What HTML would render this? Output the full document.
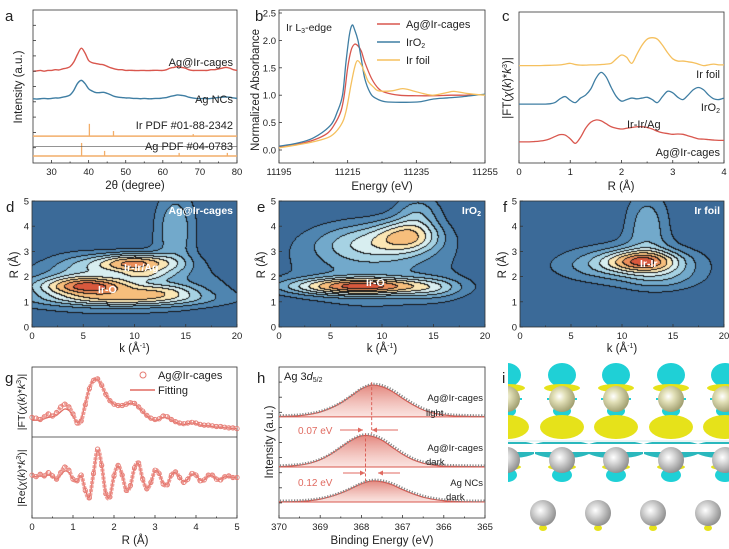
<!DOCTYPE html>
<html><head><meta charset="utf-8">
<style>
html,body{margin:0;padding:0;background:#fff;}
#wrap{position:relative;width:729px;height:549px;overflow:hidden;font-family:"Liberation Sans",sans-serif;}
canvas{position:absolute;}
svg{position:absolute;left:0;top:0;}
text{font-family:"Liberation Sans",sans-serif;}
</style></head>
<body>
<div id="wrap">
<canvas id="cd" width="205" height="126" style="left:32px;top:201px"></canvas>
<canvas id="ce" width="206" height="126" style="left:279px;top:201px"></canvas>
<canvas id="cf" width="204" height="126" style="left:520px;top:201px"></canvas>
<svg id="fig" width="729" height="549" viewBox="0 0 729 549"></svg>
</div>
<script>
// ---------- DATA ----------
const aTheta=[25,26,27,28,29,30,31,32,33,34,35,36,37,38,39,40,41,42,43,44,45,46,47,48,49,50,51,52,53,54,55,56,57,58,59,60,61,62,63,64,65,66,67,68,69,70,71,72,73,74,75,76,77,78,79,80];
const aAgIr=[6.0,6.02,6.05,6.0,6.05,6.05,6.1,6.08,6.15,6.2,6.3,6.6,7.1,7.5,7.2,6.7,6.55,6.5,6.45,6.42,6.32,6.22,6.15,6.1,6.1,6.05,6.06,6.05,6.04,6.05,6.05,6.04,6.05,6.06,6.05,6.05,6.1,6.2,6.25,6.3,6.25,6.2,6.1,6.05,6.05,6.05,6.05,6.05,6.1,6.1,6.15,6.2,6.25,6.2,6.1,6.05];
const aAgNC=[4.2,4.18,4.2,4.22,4.2,4.22,4.25,4.25,4.3,4.35,4.45,4.75,5.2,5.4,5.2,4.85,4.7,4.6,4.6,4.62,4.55,4.45,4.35,4.3,4.28,4.25,4.25,4.22,4.22,4.2,4.22,4.2,4.2,4.22,4.22,4.25,4.28,4.35,4.4,4.45,4.42,4.38,4.3,4.25,4.22,4.2,4.22,4.2,4.22,4.25,4.28,4.3,4.32,4.3,4.25,4.22];
const irPdfPos=[40.2,46.7,68.2];
const irPdfH=[0.8,0.33,0.13];
const agPdfPos=[38.1,44.3,64.4,77.4];
const agPdfH=[0.85,0.33,0.2,0.2];
const irPdfBase=1.76, agPdfBase=0.46;

const bE_AgIr=[11195,11200,11205,11209,11211,11213,11214,11215,11216,11217,11218,11219,11220,11222,11224,11226,11230,11235,11240,11245,11250,11255];
const bV_AgIr=[0.05,0.1,0.18,0.3,0.45,0.7,1.0,1.5,1.82,1.93,1.9,1.8,1.6,1.3,1.12,1.05,1.0,0.99,0.99,1.0,1.0,1.01];
const bE_IrO2=[11195,11200,11205,11210,11212,11213.5,11214.5,11215.5,11216.3,11217,11218,11219,11220,11221.5,11223,11226,11232,11236,11240,11244,11248,11255];
const bV_IrO2=[0.07,0.12,0.22,0.45,0.7,1.0,1.6,2.1,2.28,2.2,2.0,1.65,1.3,1.05,0.95,0.88,0.87,0.88,0.93,0.95,0.97,1.02];
const bE_Ir=[11195,11200,11205,11210,11213,11214.5,11216,11217,11217.8,11219,11220,11221,11222.5,11224,11228,11231,11234,11237,11240,11244,11246,11250,11255];
const bV_Ir=[0.04,0.09,0.15,0.25,0.45,0.7,1.2,1.5,1.63,1.55,1.4,1.25,1.15,1.08,1.08,1.12,1.08,1.03,1.0,1.05,1.07,1.03,1.0];

const cR=[0,0.1,0.2,0.3,0.4,0.5,0.6,0.7,0.8,0.9,1.0,1.1,1.2,1.3,1.4,1.5,1.6,1.7,1.8,1.9,2.0,2.1,2.2,2.3,2.4,2.5,2.6,2.7,2.8,2.9,3.0,3.1,3.2,3.3,3.4,3.5,3.6,3.7,3.8,3.9,4.0];
const cIr=[6.45,6.45,6.45,6.45,6.45,6.46,6.47,6.48,6.5,6.55,6.6,6.52,6.48,6.48,6.5,6.5,6.52,6.55,6.6,6.9,7.15,7.0,6.6,7.2,7.8,8.2,8.3,8.2,7.8,7.3,6.9,6.75,6.75,6.7,6.65,6.55,6.45,6.5,6.55,6.5,6.5];
const cIrO2=[3.9,3.9,3.9,3.9,3.9,3.9,3.92,4.0,4.25,4.4,4.15,4.0,4.3,4.5,4.9,5.6,6.0,5.7,5.0,4.4,4.1,4.2,4.3,4.25,4.3,4.35,4.2,4.0,4.4,4.75,4.65,4.35,4.2,4.5,4.85,5.0,4.85,4.5,4.25,4.2,4.3];
const cAgIr=[1.4,1.4,1.4,1.42,1.45,1.5,1.6,1.75,1.88,1.85,1.6,1.3,1.7,2.3,2.7,2.85,2.8,2.6,2.4,2.3,2.25,2.3,2.35,2.4,2.4,2.35,2.25,2.1,2.0,1.95,1.9,1.92,1.9,1.8,1.7,1.6,1.58,1.55,1.52,1.5,1.5];

const dK=[5.5,10,9,12.5,14,11,8,4.5];
const dR=[1.6,2.5,1.1,1.4,3.9,2.05,1.6,2.3];
const dA=[1.0,0.95,0.55,0.4,0.32,0.3,0.25,0.18];
const dSK=[3.0,2.6,5.0,2.5,1.4,1.5,8,2];
const dSR=[0.25,0.25,0.2,0.2,1.1,0.15,0.8,0.4];
const eK=[8,12.5,9,9,13.5,15];
const eR=[1.6,3.6,3.3,2.3,4.5,1.5];
const eA=[1.0,0.55,0.35,0.2,0.25,0.2];
const eSK=[4.2,2,3.5,6,1.5,2];
const eSR=[0.22,0.4,0.5,1.2,0.5,0.3];
const fK=[12,11,12.5,14,8];
const fR=[2.6,2.5,4.0,2.0,2.4];
const fA=[1.0,0.3,0.35,0.25,0.15];
const fSK=[2.3,5,1.5,2.5,3];
const fSR=[0.28,0.6,1.0,0.4,0.35];
const levels=[0.08,0.17,0.27,0.38,0.5,0.63,0.77,0.9];
const levelColors=['#3b6a98','#4f85b0','#72a9cb','#a6d2e3','#d8eef0','#fbe6b4','#f6be7c','#ec8e5a','#d9583d'];

const gR=[0,0.1,0.2,0.3,0.4,0.5,0.6,0.7,0.8,0.9,1.0,1.1,1.2,1.3,1.4,1.5,1.6,1.7,1.8,1.9,2.0,2.1,2.2,2.3,2.4,2.5,2.6,2.7,2.8,2.9,3.0,3.1,3.2,3.3,3.4,3.5,3.6,3.7,3.8,3.9,4.0,4.1,4.2,4.3,4.4,4.5,4.6,4.7,4.8,4.9,5.0];
const gFTdata=[2.8,2.7,2.5,2.9,3.3,3.0,3.5,4.3,4.7,4.3,3.3,2.0,2.3,4.6,6.9,8.1,8.3,7.4,6.1,5.2,4.7,4.5,4.5,4.7,4.9,4.8,4.3,3.7,3.1,2.7,2.5,2.6,3.0,2.9,2.5,2.2,2.0,1.9,2.0,2.1,2.0,1.8,1.7,1.7,1.6,1.5,1.5,1.4,1.3,1.3,1.2];
const gFTfit=[2.4,2.4,2.4,2.6,2.8,2.9,3.1,3.6,4.0,3.8,3.0,2.1,2.6,4.8,7.0,8.1,8.2,7.3,6.1,5.2,4.7,4.5,4.5,4.7,4.8,4.7,4.2,3.6,3.0,2.6,2.4,2.5,2.8,2.7,2.4,2.1,1.9,1.8,1.9,2.0,1.9,1.7,1.6,1.6,1.5,1.4,1.4,1.3,1.3,1.2,1.2];
const gReData=[0.3,0.1,0.4,0.2,0.6,0.2,-0.2,0.6,1.3,0.9,-0.2,-0.4,0.3,-1.6,-2.5,0.5,3.5,1.5,-2.0,-2.4,0.2,1.5,0.3,-1.6,-1.0,1.2,1.8,-0.2,-1.4,-0.6,0.9,0.5,-0.8,-0.9,0.3,0.7,0.0,-0.6,-0.2,0.5,0.3,-0.4,-0.3,0.3,0.3,-0.2,-0.3,0.1,0.2,0.0,0.0];
const gReFit=[0.1,0.1,0.2,0.1,0.3,0.1,-0.2,0.3,0.8,0.6,-0.2,-0.5,0.2,-1.5,-2.4,0.5,3.3,1.5,-1.9,-2.3,0.2,1.4,0.3,-1.5,-1.0,1.1,1.7,-0.2,-1.3,-0.6,0.8,0.5,-0.7,-0.8,0.3,0.6,0.0,-0.5,-0.2,0.4,0.3,-0.3,-0.3,0.2,0.2,-0.2,-0.2,0.1,0.1,0.0,0.0];

const hBE=[370,369.75,369.5,369.25,369,368.75,368.5,368.25,368,367.75,367.5,367.25,367,366.75,366.5,366.25,366,365.75,365.5,365.25,365];
const hLight=[6.72,6.74,6.78,6.87,7.02,7.27,7.62,8.08,8.55,8.8,8.7,8.38,7.92,7.5,7.16,6.95,6.83,6.76,6.74,6.72,6.72];
const hDark=[3.4,3.44,3.5,3.63,3.86,4.22,4.68,5.14,5.44,5.42,5.15,4.68,4.22,3.86,3.63,3.5,3.44,3.42,3.41,3.4,3.4];
const hNC=[1.07,1.08,1.1,1.15,1.25,1.42,1.65,1.95,2.27,2.45,2.4,2.2,1.88,1.6,1.38,1.24,1.15,1.1,1.08,1.07,1.07];
const hBase=[6.7,3.38,1.06];
const hPeakPos=[367.75,367.9];

// ---------- HELPERS ----------
const NS='http://www.w3.org/2000/svg';
const svg=document.getElementById('fig');
function el(tag,attrs,parent){const e=document.createElementNS(NS,tag);for(const k in attrs)e.setAttribute(k,attrs[k]);(parent||svg).appendChild(e);return e;}
function lin(d0,d1,r0,r1){return v=>r0+(v-d0)/(d1-d0)*(r1-r0);}
function smoothPath(pts){
  let d='M'+pts[0][0].toFixed(2)+','+pts[0][1].toFixed(2);
  for(let i=0;i<pts.length-1;i++){
    const p0=pts[i-1]||pts[i],p1=pts[i],p2=pts[i+1],p3=pts[i+2]||p2;
    const c1=[p1[0]+(p2[0]-p0[0])/6,p1[1]+(p2[1]-p0[1])/6];
    const c2=[p2[0]-(p3[0]-p1[0])/6,p2[1]-(p3[1]-p1[1])/6];
    d+='C'+c1.map(v=>v.toFixed(2))+' '+c2.map(v=>v.toFixed(2))+' '+p2[0].toFixed(2)+','+p2[1].toFixed(2);
  }
  return d;
}
function txt(x,y,s,opt){opt=opt||{};const t=el('text',{x:x,y:y,'font-size':opt.size||10,fill:opt.fill||'#222','text-anchor':opt.anchor||'start','font-weight':opt.weight||'normal'});
  if(opt.rot){t.setAttribute('transform','rotate(-90 '+x+' '+y+')');}
  t.innerHTML=s;return t;}
function frame(L,T,R,B,name){const r=el('rect',{x:L,y:T,width:R-L,height:B-T,fill:'none',stroke:'#333','stroke-width':0.8});return r;}
function xTicks(xs,vals,labels,B,T,ly,minor){
  vals.forEach((v,i)=>{const x=xs(v);el('line',{x1:x,x2:x,y1:B,y2:B-3,stroke:'#333','stroke-width':0.8});
    const t=txt(x,ly,labels[i],{anchor:'middle',size:9.5});});
  (minor||[]).forEach(v=>{const x=xs(v);el('line',{x1:x,x2:x,y1:B,y2:B-1.5,stroke:'#333','stroke-width':0.8});});
}
function yTicks(ys,vals,labels,L,lx){
  vals.forEach((v,i)=>{const y=ys(v);el('line',{x1:L,x2:L+3,y1:y,y2:y,stroke:'#333','stroke-width':0.8});
    if(labels){const t=txt(lx,y+3.5,labels[i],{anchor:'end',size:9.5});}});
}
function letter(x,y,s){const t=txt(x,y,s,{size:15});}

// ---------- PANEL a ----------
(function(){
  const L=33,R=237,T=10,B=163;
  const xs=lin(25,80,L,R), ys=lin(0,10,B,T);
  letter(5,21,'a');
  frame(L,T,R,B,'panel-a-frame');
  const p1=el('path',{d:smoothPath(aTheta.map((t,i)=>[xs(t),ys(aAgIr[i])])),fill:'none',stroke:'#d9574e','stroke-width':1.4});
  
  const p2=el('path',{d:smoothPath(aTheta.map((t,i)=>[xs(t),ys(aAgNC[i])])),fill:'none',stroke:'#3f7ea3','stroke-width':1.4});
  
  const b1=el('line',{x1:L,x2:R,y1:ys(irPdfBase),y2:ys(irPdfBase),stroke:'#f2ae6a','stroke-width':1.5});
  
  irPdfPos.forEach((p,i)=>{const l=el('line',{x1:xs(p),x2:xs(p),y1:ys(irPdfBase),y2:ys(irPdfBase+irPdfH[i]),stroke:'#f2ae6a','stroke-width':1.3});
    });
  const b2=el('line',{x1:L,x2:R,y1:ys(agPdfBase),y2:ys(agPdfBase),stroke:'#f2ae6a','stroke-width':1.5});
  
  agPdfPos.forEach((p,i)=>{const l=el('line',{x1:xs(p),x2:xs(p),y1:ys(agPdfBase),y2:ys(agPdfBase+agPdfH[i]),stroke:'#f2ae6a','stroke-width':1.3});
    });
  el('line',{x1:L,x2:R,y1:ys(1.08),y2:ys(1.08),stroke:'#555','stroke-width':0.6});
  xTicks(xs,[30,40,50,60,70,80],['30','40','50','60','70','80'],B,T,175,[35,45,55,65,75]);
  yTicks(ys,[1,2,3,4,5,6,7,8,9],null,L);
  txt(233,66,'Ag@Ir-cages',{anchor:'end',size:11});
  txt(233,103,'Ag NCs',{anchor:'end',size:11});
  txt(233,129,'Ir PDF #01-88-2342',{anchor:'end',size:11});
  txt(233,150,'Ag PDF #04-0783',{anchor:'end',size:11});
  txt(135,189,'2θ (degree)',{anchor:'middle',size:11.5});
  txt(22,87,'Intensity (a.u.)',{anchor:'middle',size:11.5,rot:true});
})();

// ---------- PANEL b ----------
(function(){
  const L=279,R=485,T=10,B=163;
  const xs=lin(11195,11255,L,R), ys=lin(0,2.5,150,13);
  letter(255,21,'b');
  frame(L,T,R,B,'panel-b-frame');
  [[bE_AgIr,bV_AgIr,'#d9574e','xanes-ag-ir-cages'],[bE_IrO2,bV_IrO2,'#3f7ea3','xanes-iro2'],[bE_Ir,bV_Ir,'#f5c05e','xanes-ir-foil']].forEach(s=>{
    const p=el('path',{d:smoothPath(s[0].map((e,i)=>[xs(e),ys(s[1][i])])),fill:'none',stroke:s[2],'stroke-width':1.3});
    });
  xTicks(xs,[11195,11215,11235,11255],['11195','11215','11235','11255'],B,T,175,[11205,11225,11245]);
  yTicks(ys,[0,0.5,1,1.5,2,2.5],['0.0','0.5','1.0','1.5','2.0','2.5'],L,276);
  txt(286,31,'Ir L<tspan font-size="7" dy="2">3</tspan><tspan dy="-2">-edge</tspan>',{size:10.5});
  [['Ag@Ir-cages','#d9574e',24],['IrO<tspan font-size="7" dy="2">2</tspan>','#3f7ea3',42],['Ir foil','#f5c05e',60]].forEach(r=>{
    const l=el('line',{x1:377,x2:400,y1:r[2],y2:r[2],stroke:r[1],'stroke-width':1.5});
    txt(406,r[2]+4,r[0],{size:11});});
  txt(382,190,'Energy (eV)',{anchor:'middle',size:11.5});
  txt(259,90,'Normalized Absorbance',{anchor:'middle',size:11.5,rot:true});
})();

// ---------- PANEL c ----------
(function(){
  const L=519,R=724,T=12,B=163;
  const xs=lin(0,4,L,R), ys=lin(0,10,B,T);
  letter(502,21,'c');
  frame(L,T,R,B,'panel-c-frame');
  [[cIr,'#f5c05e','ft-ir-foil'],[cIrO2,'#3f7ea3','ft-iro2'],[cAgIr,'#d9574e','ft-ag-ir-cages']].forEach(s=>{
    const p=el('path',{d:smoothPath(cR.map((r,i)=>[xs(r),ys(s[0][i])])),fill:'none',stroke:s[1],'stroke-width':1.3});
    });
  xTicks(xs,[0,1,2,3,4],['0','1','2','3','4'],B,T,175,[0.5,1.5,2.5,3.5]);
  txt(720,78,'Ir foil',{anchor:'end',size:11});
  txt(720,111,'IrO<tspan font-size="7" dy="2">2</tspan>',{anchor:'end',size:11});
  txt(627,128,'Ir-Ir/Ag',{size:11});
  txt(720,156,'Ag@Ir-cages',{anchor:'end',size:11});
  txt(621,190,'R (Å)',{anchor:'middle',size:11.5});
  txt(511,88,'|FT(<tspan font-style="italic">χ</tspan>(<tspan font-style="italic">k</tspan>)*<tspan font-style="italic">k</tspan><tspan font-size="7" dy="-4">3</tspan><tspan dy="4">)|</tspan>',{anchor:'middle',size:11.5,rot:true});
})();

// ---------- CONTOURS d/e/f ----------
function drawContour(id,K,Rc,A,SK,SR){
  const cv=document.getElementById(id),ctx=cv.getContext('2d');
  const W=cv.width,H=cv.height;
  const field=new Array(W*H);let mx=0;
  for(let py=0;py<H;py++)for(let px=0;px<W;px++){
    const k=(px+0.5)/W*20,r=5-(py+0.5)/H*5;let f=0;
    for(let i=0;i<K.length;i++){const dk=(k-K[i])/SK[i],dr=(r-Rc[i])/SR[i];f+=A[i]*Math.exp(-0.5*(dk*dk+dr*dr));}
    field[py*W+px]=f;if(f>mx)mx=f;}
  const lev=field.map(f=>{f/=mx;let l=0;while(l<levels.length&&f>levels[l])l++;return l;});
  const img=ctx.createImageData(W,H);
  const rgb=levelColors.map(c=>[parseInt(c.substr(1,2),16),parseInt(c.substr(3,2),16),parseInt(c.substr(5,2),16)]);
  for(let py=0;py<H;py++)for(let px=0;px<W;px++){
    const i=py*W+px,l=lev[i];let c=rgb[l];
    const rN=px<W-1?lev[i+1]:l,dN=py<H-1?lev[i+W]:l;
    if(rN!==l||dN!==l)c=[20,20,20];
    img.data[i*4]=c[0];img.data[i*4+1]=c[1];img.data[i*4+2]=c[2];img.data[i*4+3]=255;}
  ctx.putImageData(img,0,0);
}
drawContour('cd',dK,dR,dA,dSK,dSR);
drawContour('ce',eK,eR,eA,eSK,eSR);
drawContour('cf',fK,fR,fA,fSK,fSR);
[[32,237,'d','Ag@Ir-cages',6],[279,485,'e','IrO<tspan font-size="7" dy="2">2</tspan>',257],[520,724,'f','Ir foil',503]].forEach(p=>{
  const L=p[0],R=p[1],T=201,B=327;
  const xs=lin(0,20,L,R),ys=lin(0,5,B,T);
  letter(p[4],212,p[2]);
  frame(L,T,R,B,'panel-'+p[2]+'-frame');
  xTicks(xs,[0,5,10,15,20],['0','5','10','15','20'],B,T,339,[2.5,7.5,12.5,17.5]);
  yTicks(ys,[0,1,2,3,4,5],['0','1','2','3','4','5'],L,L-3);
  txt(R-4,214,p[3],{anchor:'end',size:10.5,fill:'#fff',weight:'bold'});
  txt((L+R)/2,352,'k (Å<tspan font-size="7" dy="-4">-1</tspan><tspan dy="4">)</tspan>',{anchor:'middle',size:11.5});
  txt(L-14,265,'R (Å)',{anchor:'middle',size:11.5,rot:true});
});
txt(124,271,'Ir-Ir/Ag',{size:10.5,fill:'#fff',weight:'bold'});
txt(98,293,'Ir-O',{size:10.5,fill:'#fff',weight:'bold'});
txt(366,286,'Ir-O',{size:10.5,fill:'#fff',weight:'bold'});
txt(640,267,'Ir-Ir',{size:10.5,fill:'#fff',weight:'bold'});

// ---------- PANEL g ----------
(function(){
  const L=32,R=237,T=367,M=437,B=518;
  const xs=lin(0,5,L,R), yt=lin(0,10,M,T), yb=lin(-5,5,B,M);
  letter(5,383,'g');
  frame(L,T,R,B,'panel-g-frame');
  el('line',{x1:L,x2:R,y1:M,y2:M,stroke:'#333','stroke-width':0.8});
  const c1=el('path',{d:smoothPath(gR.map((r,i)=>[xs(r),yt(gFTfit[i])])),fill:'none',stroke:'#e06a60','stroke-width':1.3});
  
  const c2=el('path',{d:smoothPath(gR.map((r,i)=>[xs(r),yb(gReFit[i])])),fill:'none',stroke:'#e06a60','stroke-width':1.3});
  
  const d1=el('path',{d:smoothPath(gR.map((r,i)=>[xs(r),yt(gFTdata[i])])),fill:'none',stroke:'#eb8a82','stroke-width':4,'stroke-dasharray':'3 1','opacity':0.8});
  
  const d2=el('path',{d:smoothPath(gR.map((r,i)=>[xs(r),yb(gReData[i])])),fill:'none',stroke:'#eb8a82','stroke-width':4,'stroke-dasharray':'3 1','opacity':0.8});
  
  gR.forEach((r,i)=>{
    const a=el('circle',{cx:xs(r),cy:yt(gFTdata[i]),r:2.2,fill:'none',stroke:'#e57a72','stroke-width':0.8});
    const b=el('circle',{cx:xs(r),cy:yb(gReData[i]),r:2.2,fill:'none',stroke:'#e57a72','stroke-width':0.8});});
  xTicks(xs,[0,1,2,3,4,5],['0','1','2','3','4','5'],B,M,530,[0.5,1.5,2.5,3.5,4.5]);
  const lc=el('circle',{cx:143,cy:375,r:3,fill:'none',stroke:'#e57a72','stroke-width':1});
  txt(158,379,'Ag@Ir-cages',{size:11});
  const ll=el('line',{x1:130,x2:155,y1:390,y2:390,stroke:'#e06a60','stroke-width':1.5});
  txt(158,394,'Fitting',{size:11});
  txt(135,544,'R  (Å)',{anchor:'middle',size:11.5});
  txt(25,402,'|FT(<tspan font-style="italic">χ</tspan>(<tspan font-style="italic">k</tspan>)*<tspan font-style="italic">k</tspan><tspan font-size="7" dy="-4">3</tspan><tspan dy="4">)|</tspan>',{anchor:'middle',size:10.5,rot:true});
  txt(25,478,'|Re(<tspan font-style="italic">χ</tspan>(<tspan font-style="italic">k</tspan>)*<tspan font-style="italic">k</tspan><tspan font-size="7" dy="-4">3</tspan><tspan dy="4">)|</tspan>',{anchor:'middle',size:10.5,rot:true});
})();

// ---------- PANEL h ----------
(function(){
  const L=279,R=485,T=367,B=518;
  const xs=lin(370,365,L,R), ys=lin(0,10,B,T);
  letter(257,383,'h');
  const defs=el('defs',{});
  const g=el('linearGradient',{id:'pk',x1:0,y1:0,x2:0,y2:1},defs);
  el('stop',{offset:'0','stop-color':'#e07a70','stop-opacity':0.9},g);
  el('stop',{offset:'1','stop-color':'#f7d2cc','stop-opacity':0.6},g);
  frame(L,T,R,B,'panel-h-frame');
  [[hLight,0,'xps-ag-ir-light'],[hDark,1,'xps-ag-ir-dark'],[hNC,2,'xps-ag-ncs']].forEach(s=>{
    const base=hBase[s[1]];
    const pts=hBE.map((e,i)=>[xs(e),ys(s[0][i])]);
    const d=smoothPath(pts);
    const f=el('path',{d:d+'L'+xs(365)+','+ys(base)+'L'+xs(370)+','+ys(base)+'Z',fill:'url(#pk)',stroke:'none'});
    
    const bl=el('line',{x1:L,x2:R,y1:ys(base),y2:ys(base),stroke:'#d9574e','stroke-width':1});
    
    const ln=el('path',{d:d,fill:'none',stroke:'#d9574e','stroke-width':1.2});
    
    const dt=el('path',{d:d,fill:'none',stroke:'#888','stroke-width':2.6,'stroke-dasharray':'1.2 1.6',transform:'translate(1,-1)'});
    
  });
  const v1=el('line',{x1:xs(hPeakPos[0]),x2:xs(hPeakPos[0]),y1:ys(9.0),y2:ys(5.6),stroke:'#d9574e','stroke-width':0.9,'stroke-dasharray':'3 2'});
  
  const v2=el('line',{x1:xs(hPeakPos[1]),x2:xs(hPeakPos[1]),y1:ys(5.6),y2:ys(2.3),stroke:'#d9574e','stroke-width':0.9,'stroke-dasharray':'3 2'});
  
  function arrow(x1,x2,y){el('line',{x1:x1,x2:x2,y1:y,y2:y,stroke:'#e06a60','stroke-width':1});
    const dir=x2>x1?-1:1;el('path',{d:'M'+x2+','+y+'l'+(dir*5)+',-2.5l0,5z',fill:'#e06a60'});}
  arrow(340,363,430);arrow(398,372,430);arrow(343,365,473);arrow(400,378,473);
  txt(298,434,'0.07 eV',{size:10,fill:'#e06a60'});
  txt(298,486,'0.12 eV',{size:10,fill:'#e06a60'});
  txt(483,401,'Ag@Ir-cages',{anchor:'end',size:9.5});
  txt(426,416,'light',{size:9.5});
  txt(483,451,'Ag@Ir-cages',{anchor:'end',size:9.5});
  txt(426,465,'dark',{size:9.5});
  txt(483,486,'Ag NCs',{anchor:'end',size:9.5});
  txt(446,500,'dark',{size:9.5});
  txt(284,380,'Ag 3<tspan font-style="italic">d</tspan><tspan font-size="7" dy="2">5/2</tspan>',{size:11});
  xTicks(xs,[370,369,368,367,366,365],['370','369','368','367','366','365'],B,T,530,[369.5,368.5,367.5,366.5,365.5]);
  yTicks(ys,[1,2,3,4,5,6,7,8,9],null,L);
  txt(382,544,'Binding Energy (eV)',{anchor:'middle',size:11.5});
  txt(273,442,'Intensity (a.u.)',{anchor:'middle',size:11.5,rot:true});
})();

// ---------- PANEL i (structure) ----------
(function(){
  letter(502,383,'i');
  const defs=el('defs',{});
  const gg=el('radialGradient',{id:'gray',cx:'0.4',cy:'0.4',r:'0.65'},defs);
  el('stop',{offset:'0','stop-color':'#ffffff'},gg);el('stop',{offset:'0.35','stop-color':'#d8d8d8'},gg);el('stop',{offset:'1','stop-color':'#8a8a8a'},gg);
  const gb=el('radialGradient',{id:'beige',cx:'0.4',cy:'0.4',r:'0.65'},defs);
  el('stop',{offset:'0','stop-color':'#ffffff'},gb);el('stop',{offset:'0.35','stop-color':'#e2e0b8'},gb);el('stop',{offset:'1','stop-color':'#9c9a6a'},gb);
  const cyan='#1fd0d6', yel='#e6e21a';
  const g=el('g',{'clip-path':'url(#iclip)'});
  const cp=el('clipPath',{id:'iclip'},defs);el('rect',{x:508,y:362,width:221,height:187},cp);
  const cols=[507,562,616,671,725];
  cols.forEach(x=>{
    el('ellipse',{cx:x,cy:375,rx:14,ry:12,fill:cyan},g);
    el('ellipse',{cx:x,cy:388,rx:18,ry:4,fill:yel},g);
    el('rect',{x:x-15,y:398,width:30,height:2,fill:cyan},g);
    el('ellipse',{cx:x,cy:411,rx:9,ry:6,fill:cyan},g);
    el('ellipse',{cx:x,cy:427,rx:22,ry:12,fill:yel},g);
    el('circle',{cx:x,cy:399,r:13,fill:'url(#beige)'},g);
    el('path',{d:'M'+(x-27)+',444 Q'+x+',436 '+(x+27)+',444 Z',fill:'#2ab8bd'},g);
    el('path',{d:'M'+(x-27)+',454 Q'+(x-13)+',460 '+x+',456 Q'+(x+13)+',460 '+(x+27)+',454 L'+(x+27)+',452 L'+(x-27)+',452Z',fill:'#2ab8bd'},g);
    el('ellipse',{cx:x,cy:475,rx:10,ry:7,fill:cyan},g);
    el('ellipse',{cx:x,cy:467,rx:14,ry:3,fill:yel},g);
    el('circle',{cx:x,cy:460,r:13,fill:'url(#gray)'},g);
  });
  el('rect',{x:508,y:440,width:221,height:2,fill:'#e9f5f5'},g);
  [543,598,653,708].forEach(x=>{
    el('ellipse',{cx:x,cy:528,rx:4,ry:3,fill:yel},g);
    el('circle',{cx:x,cy:513,r:13,fill:'url(#gray)'},g);
  });
})();
</script>
</body></html>
